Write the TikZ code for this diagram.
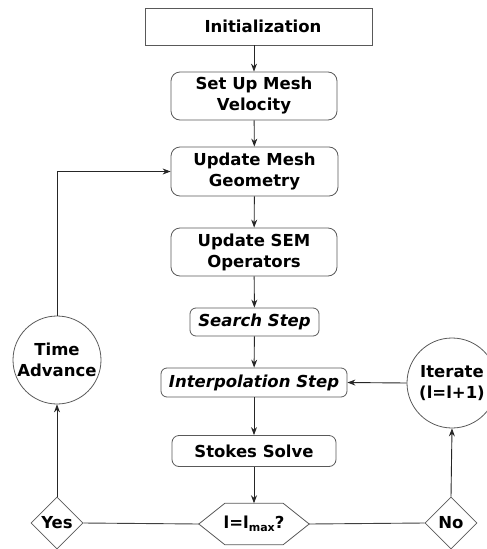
\documentclass[tikz,border=0pt]{standalone}
\usepackage{fontspec}
\setmainfont{DejaVu Sans}
\usetikzlibrary{shapes.geometric,arrows.meta}
\begin{document}
\begin{tikzpicture}[x=1pt,y=-1pt,
  every node/.style={font=\fontsize{16.5}{21}\selectfont\bfseries, align=center, inner sep=0pt},
  box/.style={draw=black!65, line width=0.8pt, minimum width=#1},
  rbox/.style={draw=black!65, line width=0.8pt, rounded corners=9pt, minimum width=#1},
  circ/.style={draw=black!65, line width=0.8pt, circle, minimum size=#1},
  dia/.style={draw=black!65, line width=0.8pt, diamond, minimum width=52pt, minimum height=52pt, aspect=1},
  arr/.style={-{Stealth[length=8pt,width=6pt]}, line width=0.9pt, black!85},
  ln/.style={line width=0.9pt, black!75}]
\useasboundingbox (0,0) rectangle (487,549);
\node[box=227pt, minimum height=37pt] (init) at (258.5,26.5) {\hspace{9pt}Initialization};
\node[rbox=166pt, minimum height=48pt] (setup) at (254,96) {Set Up Mesh\\Velocity};
\node[rbox=167pt, minimum height=49pt] (geom) at (254.5,171.5) {Update Mesh\\Geometry};
\node[rbox=166pt, minimum height=48pt] (sem) at (254,252) {Update SEM\\Operators};
\node[rbox=129pt, minimum height=28pt, rounded corners=6pt] (search) at (254.5,322) {\itshape Search Step};
\node[rbox=186pt, minimum height=29pt, rounded corners=6pt] (interp) at (254,382.5) {\itshape Interpolation Step};
\node[rbox=164pt, minimum height=31pt, rounded corners=7pt] (stokes) at (254,451) {Stokes Solve};
\node[minimum width=110pt, minimum height=41pt] (hex) at (254,524) {l=l\raisebox{-0.35ex}{\fontsize{11}{11}\selectfont max}?};
\draw[black!65, line width=0.8pt] (hex.west) -- ([xshift=26pt]hex.north west) -- ([xshift=-26pt]hex.north east) -- (hex.east) -- ([xshift=-26pt]hex.south east) -- ([xshift=26pt]hex.south west) -- cycle;
\node[dia] (yes) at (57,523) {Yes};
\node[dia] (no) at (451,523) {No};
\node[circ=88pt] (time) at (57,360) {Time\\Advance};
\node[circ=90pt] (iter) at (452,383) {Iterate\\(l=l+1)};
\draw[arr] (init.south -| setup.north) -- (setup.north);
\draw[arr] (setup) -- (geom);
\draw[arr] (geom) -- (sem);
\draw[arr] (sem) -- (search);
\draw[arr] (search) -- (interp);
\draw[arr] (interp) -- (stokes);
\draw[arr] (stokes) -- (hex.north);
\draw[ln] (yes.east) -- (hex.west);
\draw[ln] (hex.east) -- (no.west);
\draw[arr] (yes.north) -- (time.south);
\draw[arr] (no.north) -- (iter.south);
\draw[arr] (iter.west) -- (interp.east);
\draw[arr] (time.north) |- (geom.west);
\end{tikzpicture}
\end{document}
